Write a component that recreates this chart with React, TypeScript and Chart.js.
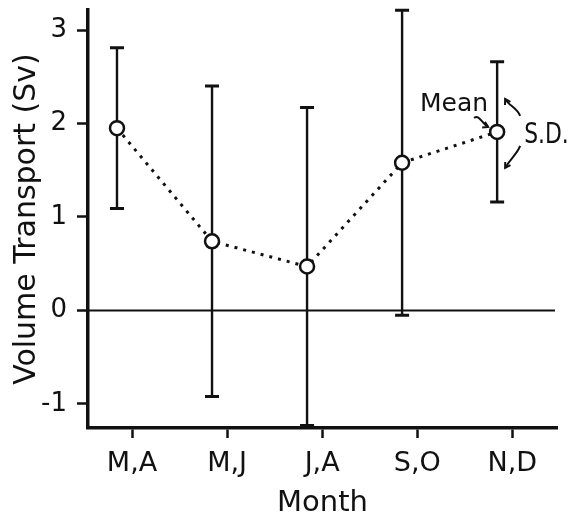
import React, { useEffect, useRef } from "react";
import { Chart, registerables } from "chart.js";
Chart.register(...registerables);

const months = ["M,A", "M,J", "J,A", "S,O", "N,D"];
const meanTransport = [1.95, 0.74, 0.47, 1.58, 1.91];
const sdTransport = [0.86, 1.66, 1.70, 1.63, 0.75];
const yTickValues = [-1, 0, 1, 2, 3];
const yTitle = "Volume Transport (Sv)";
const xTitle = "Month";
const meanLabel = "Mean";
const sdLabel = "S.D.";

const FONT = "'DejaVu Sans', sans-serif";
const INK = "#111";

function arrowHead(ctx: CanvasRenderingContext2D, x: number, y: number, ang: number, size: number) {
  ctx.beginPath();
  ctx.moveTo(x + Math.cos(ang + 2.6) * size, y + Math.sin(ang + 2.6) * size);
  ctx.lineTo(x, y);
  ctx.lineTo(x + Math.cos(ang - 2.6) * size, y + Math.sin(ang - 2.6) * size);
  ctx.stroke();
}

const errorBarPlugin = {
  id: "errorBars",
  beforeDatasetsDraw(chart: any) {
    const { ctx, chartArea } = chart;
    const xs = chart.scales.xd;
    const ys = chart.scales.y;
    ctx.save();
    ctx.strokeStyle = INK;
    ctx.lineWidth = 2.2;
    const y0 = ys.getPixelForValue(0);
    ctx.beginPath();
    ctx.moveTo(chartArea.left, y0);
    ctx.lineTo(chartArea.right - 2, y0);
    ctx.stroke();
    meanTransport.forEach((m, i) => {
      const px = xs.getPixelForValue(i);
      const top = ys.getPixelForValue(m + sdTransport[i]);
      const bot = ys.getPixelForValue(m - sdTransport[i]);
      ctx.lineWidth = 2.4;
      ctx.beginPath();
      ctx.moveTo(px, top);
      ctx.lineTo(px, bot);
      ctx.stroke();
      ctx.lineWidth = 3;
      ctx.beginPath();
      ctx.moveTo(px - 7, top);
      ctx.lineTo(px + 7, top);
      ctx.moveTo(px - 7, bot);
      ctx.lineTo(px + 7, bot);
      ctx.stroke();
    });
    ctx.restore();
  },
  afterDatasetsDraw(chart: any) {
    const { ctx } = chart;
    const xs = chart.scales.xd;
    const ys = chart.scales.y;
    const i = meanTransport.length - 1;
    const px = xs.getPixelForValue(i);
    const py = ys.getPixelForValue(meanTransport[i]);
    ctx.save();
    ctx.fillStyle = INK;
    ctx.strokeStyle = INK;
    ctx.lineWidth = 2;
    ctx.font = `25px ${FONT}`;
    ctx.textAlign = "right";
    ctx.textBaseline = "alphabetic";
    ctx.fillText(meanLabel, px - 9, py - 21);
    // mean arrow
    ctx.beginPath();
    ctx.moveTo(px - 23, py - 14);
    ctx.bezierCurveTo(px - 18, py - 18, px - 15, py - 8, px - 9, py - 5);
    ctx.stroke();
    arrowHead(ctx, px - 9, py - 5, Math.atan2(3, 6), 6);
    // S.D. (narrow lettering)
    ctx.save();
    ctx.font = `28px ${FONT}`;
    ctx.textAlign = "left";
    ctx.translate(px + 27, py + 11);
    ctx.scale(0.78, 1);
    ctx.fillText(sdLabel, 0, 0);
    ctx.restore();
    // upper SD arrow
    ctx.beginPath();
    ctx.moveTo(px + 23, py - 16);
    ctx.bezierCurveTo(px + 20, py - 24, px + 12, py - 26, px + 8, py - 33);
    ctx.stroke();
    arrowHead(ctx, px + 8, py - 33, Math.atan2(-7, -4), 6);
    // lower SD arrow
    ctx.beginPath();
    ctx.moveTo(px + 23, py + 14);
    ctx.bezierCurveTo(px + 20, py + 22, px + 14, py + 26, px + 8, py + 36);
    ctx.stroke();
    arrowHead(ctx, px + 8, py + 36, Math.atan2(8, -5), 6);
    ctx.restore();
  },
};

export default function App() {
  const ref = useRef<HTMLCanvasElement | null>(null);
  useEffect(() => {
    if (!ref.current) return;
    const chart = new Chart(ref.current, {
      type: "line",
      data: {
        datasets: [
          {
            data: meanTransport.map((m, i) => ({ x: i, y: m })),
            xAxisID: "xd",
            yAxisID: "y",
            borderColor: INK,
            borderWidth: 3,
            borderDash: [3, 6],
            pointRadius: 7,
            pointBorderWidth: 2.5,
            pointBorderColor: INK,
            pointBackgroundColor: "#fff",
            fill: false,
            tension: 0,
            clip: false as any,
          },
        ],
      },
      options: {
        animation: false,
        responsive: false,
        devicePixelRatio: 1,
        layout: { padding: { top: 10, right: 13, left: 0, bottom: 0 } },
        plugins: { legend: { display: false }, tooltip: { enabled: false } },
        scales: {
          xd: {
            type: "linear",
            display: false,
            min: -0.305,
            max: 4.63,
          },
          x: {
            type: "linear",
            position: "bottom",
            min: -0.463,
            max: 4.47,
            afterBuildTicks: (s: any) => {
              s.ticks = months.map((_, i) => ({ value: i }));
            },
            afterFit: (s: any) => {
              s.height = 93;
              s.paddingLeft = 0;
              s.paddingRight = 0;
            },
            ticks: {
              callback: (v: any) => months[v] ?? "",
              color: INK,
              font: { family: FONT, size: 27 },
              padding: 10,
              maxRotation: 0,
              autoSkip: false,
            },
            grid: {
              drawOnChartArea: false,
              drawTicks: true,
              tickLength: 10,
              tickWidth: 2.5,
              tickColor: INK,
            },
            border: { display: true, color: INK, width: 3.5 },
            title: {
              display: true,
              text: xTitle,
              color: INK,
              font: { family: FONT, size: 29 },
              padding: { top: 0, bottom: 0 },
            },
          },
          y: {
            type: "linear",
            min: -1.257,
            max: 3.214,
            afterBuildTicks: (s: any) => {
              s.ticks = yTickValues.map((v) => ({ value: v }));
            },
            afterFit: (s: any) => {
              s.width = 88;
              s.paddingTop = 0;
              s.paddingBottom = 0;
            },
            ticks: {
              color: INK,
              font: { family: FONT, size: 26 },
              padding: 10,
            },
            grid: {
              drawOnChartArea: false,
              drawTicks: true,
              tickLength: 11,
              tickWidth: 2.5,
              tickColor: INK,
            },
            border: { display: true, color: INK, width: 3.5 },
            title: {
              display: true,
              text: yTitle,
              color: INK,
              font: { family: FONT, size: 30 },
              padding: { top: 9, bottom: 0 },
            },
          },
        },
      },
      plugins: [errorBarPlugin],
    });
    return () => chart.destroy();
  }, []);
  return (
    <div style={{ position: "fixed", left: 0, top: 0, width: 570, height: 521, background: "#fff" }}>
      <canvas ref={ref} width={570} height={521} style={{ display: "block" }} />
    </div>
  );
}
